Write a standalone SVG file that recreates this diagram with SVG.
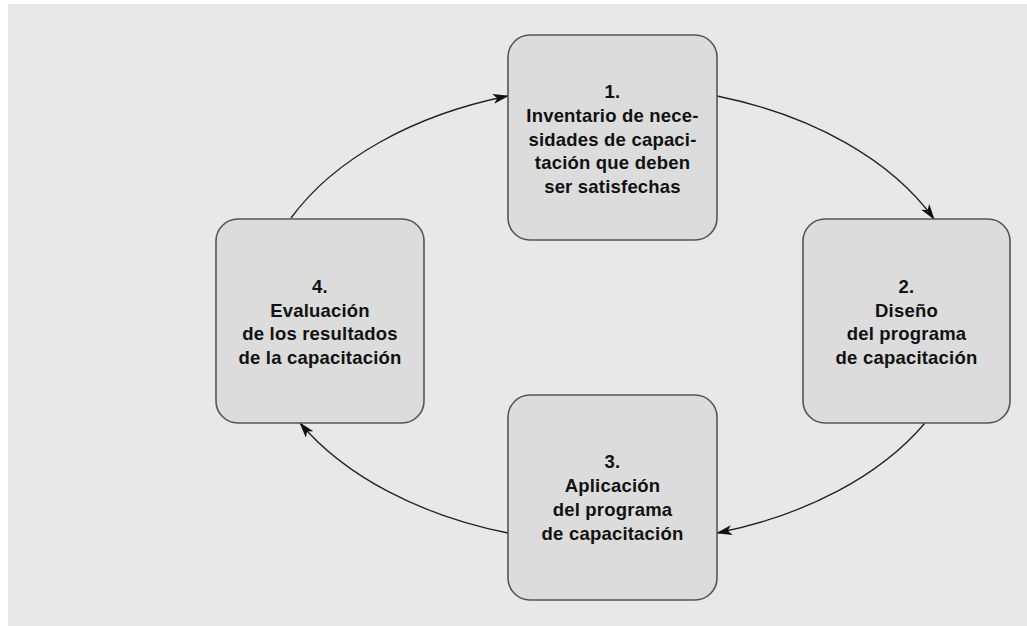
<svg xmlns="http://www.w3.org/2000/svg" width="1027" height="626" viewBox="0 0 1027 626">
<defs>
<style>
.box{fill:#dcdcdc;stroke:#555;stroke-width:1.6}
.lbl{font-family:"Liberation Sans",Arial,sans-serif;font-weight:bold;font-size:18.5px;letter-spacing:0.2px;fill:#111;text-anchor:middle}
.con{fill:none;stroke:#222;stroke-width:1.3;marker-end:url(#arr)}
</style>
<marker id="arr" viewBox="0 0 16 10" refX="15" refY="5" markerWidth="16" markerHeight="10" markerUnits="userSpaceOnUse" orient="auto">
<path d="M0,0 L16,5 L0,10 L4,5 z" fill="#111"/>
</marker>
</defs>
<rect x="0" y="0" width="1027" height="626" fill="#ffffff"/>
<rect x="8" y="4" width="1019" height="622" fill="#e8e8e8"/>
<g id="connectors">
<path class="con" d="M291,218 A357,232 0 0 1 508,96"/>
<path class="con" d="M717,96 A357,232 0 0 1 934,219"/>
<path class="con" d="M925,423 A357,232 0 0 1 717,533"/>
<path class="con" d="M508,533 A357,232 0 0 1 300,423"/>
</g>
<g id="node1">
<rect class="box" x="508" y="35" width="209" height="205" rx="22"/>
<text class="lbl" x="612.5" y="98">1.</text>
<text class="lbl" x="612.5" y="122">Inventario de nece-</text>
<text class="lbl" x="612.5" y="146">sidades de capaci-</text>
<text class="lbl" x="612.5" y="169">tación que deben</text>
<text class="lbl" x="612.5" y="193">ser satisfechas</text>
</g>
<g id="node2">
<rect class="box" x="803" y="219" width="207" height="204" rx="22"/>
<text class="lbl" x="906.5" y="293">2.</text>
<text class="lbl" x="906.5" y="317">Diseño</text>
<text class="lbl" x="906.5" y="340">del programa</text>
<text class="lbl" x="906.5" y="364">de capacitación</text>
</g>
<g id="node3">
<rect class="box" x="508" y="395" width="209" height="205" rx="22"/>
<text class="lbl" x="612.5" y="468">3.</text>
<text class="lbl" x="612.5" y="492">Aplicación</text>
<text class="lbl" x="612.5" y="516">del programa</text>
<text class="lbl" x="612.5" y="540">de capacitación</text>
</g>
<g id="node4">
<rect class="box" x="216" y="219" width="208" height="204" rx="22"/>
<text class="lbl" x="320" y="293">4.</text>
<text class="lbl" x="320" y="317">Evaluación</text>
<text class="lbl" x="320" y="340">de los resultados</text>
<text class="lbl" x="320" y="364">de la capacitación</text>
</g>
</svg>
